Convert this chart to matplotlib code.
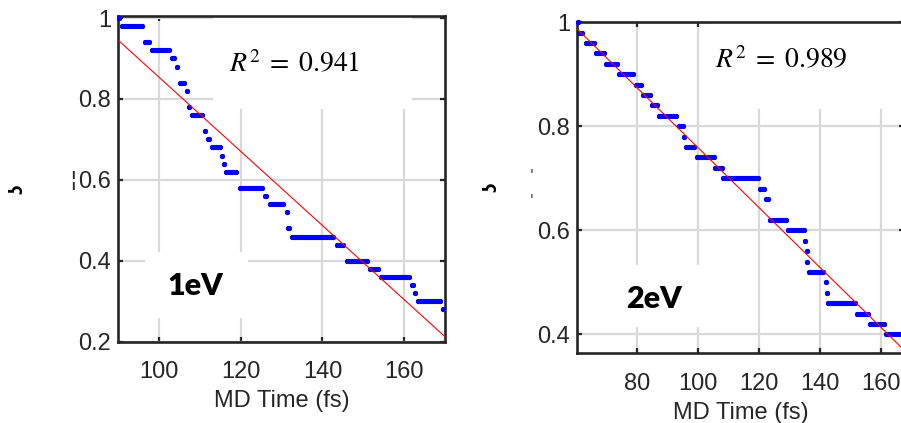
"""Two-panel step decay plot (1eV and 2eV) with linear fits, MATLAB look."""

import matplotlib

matplotlib.use("Agg")

import matplotlib.pyplot as plt
from matplotlib.patches import Rectangle

# ---- data: each step is a run of samples at one level -------------------
left_levels = [1.00, 0.98, 0.94, 0.92, 0.90, 0.88, 0.84, 0.82, 0.78, 0.76,
               0.72, 0.70, 0.68, 0.66, 0.64, 0.62, 0.58, 0.56, 0.54, 0.52,
               0.48, 0.46, 0.44, 0.40, 0.38, 0.36, 0.34, 0.32, 0.30, 0.28]
left_starts = [90.2, 90.8, 96.6, 98.3, 103.2, 104.3, 105.0, 106.8, 107.4, 108.1,
               111.3, 111.9, 113.0, 115.3, 115.8, 116.3, 119.7, 126.0, 127.1, 131.2,
               131.6, 132.6, 143.5, 146.0, 151.6, 154.4, 161.9, 162.6, 163.4, 169.4]
left_ends = [90.2, 95.7, 97.6, 102.5, 103.7, 104.3, 106.1, 106.8, 107.4, 110.4,
             111.3, 112.1, 114.9, 115.3, 115.8, 118.8, 125.3, 126.2, 130.4, 131.2,
             131.9, 142.6, 145.1, 150.8, 153.6, 161.1, 162.1, 162.6, 168.7, 169.6]
left_fit_x = [90, 170]
left_fit_y = [0.945, 0.2124]
left_r2 = "0.941"
left_label = "1eV"

right_levels = [1.00, 0.98, 0.96, 0.94, 0.92, 0.90, 0.88, 0.86, 0.84, 0.82,
                0.80, 0.78, 0.76, 0.74, 0.72, 0.70, 0.68, 0.66, 0.62, 0.60,
                0.58, 0.56, 0.54, 0.52, 0.50, 0.48, 0.46, 0.44, 0.42, 0.40]
right_starts = [60.6, 61.0, 63.2, 66.7, 70.0, 74.2, 79.7, 82.1, 84.9, 87.3,
                93.9, 95.6, 96.3, 99.9, 105.7, 108.4, 120.4, 122.3, 123.6, 129.6,
                135.3, 135.7, 135.9, 136.5, 142.0, 142.4, 142.8, 152.3, 156.4, 161.6]
right_ends = [60.6, 62.1, 65.9, 69.3, 73.5, 78.9, 81.3, 84.4, 86.8, 93.0,
              95.0, 95.6, 98.8, 105.2, 107.8, 119.6, 121.6, 122.9, 129.0, 134.9,
              135.3, 135.7, 135.9, 141.1, 142.2, 142.4, 151.6, 155.9, 160.9, 170.0]
right_fit_x = [60.5, 170]
right_fit_y = [0.987, 0.356]
right_r2 = "0.989"
right_label = "2eV"

INK = "#262626"
GRID = "#d9d9d9"
DOT = 3.7  # marker / run thickness in points

plt.rcParams["font.family"] = ["Liberation Sans", "DejaVu Sans"]
plt.rcParams["mathtext.fontset"] = "stix"

fig = plt.figure(figsize=(9.01, 4.23), dpi=100)


def panel(rect, levels, starts, ends, fit_x, fit_y, xlim, ylim, xticks, yticks,
          r2, r2_xy, label, label_xy, boxes):
    ax = fig.add_axes(rect)
    ax.set_xlim(*xlim)
    ax.set_ylim(*ylim)
    ax.set_xticks(xticks)
    ax.set_yticks(yticks)
    ax.set_yticklabels([f"{t:g}" for t in yticks])
    ax.set_axisbelow(True)
    ax.grid(True, color=GRID, lw=1.6)
    for spine in ax.spines.values():
        spine.set_color(INK)
        spine.set_linewidth(1.9)
    ax.tick_params(direction="in", length=3.5, width=1.6, color=INK,
                   labelcolor=INK, labelsize=17, top=True, right=True)
    ax.tick_params(axis="x", pad=14)
    ax.tick_params(axis="y", pad=5)
    ax.set_xlabel("MD Time (fs)", fontsize=17, color=INK, labelpad=5)

    # white text backgrounds that hide parts of the grid
    for (x0, x1, y0, y1) in boxes:
        ax.add_patch(Rectangle((x0, y0), x1 - x0, y1 - y0, facecolor="white",
                               edgecolor="none", zorder=1))

    for v, s, e in zip(levels, starts, ends):
        ax.plot([s, e], [v, v], color="#0000ff", lw=DOT, solid_capstyle="round",
                marker="o", ms=DOT, mew=0, zorder=3, clip_on=False)
    ax.plot(fit_x, fit_y, color="#ff0000", lw=0.8, zorder=4)

    ax.text(*r2_xy, rf"$R^2\;=\;{r2}$", transform=ax.transAxes, fontsize=20,
            ha="center", va="center", zorder=5)
    ax.text(*label_xy, label, transform=ax.transAxes, fontsize=22,
            family="Lato", weight="heavy", ha="center", va="center", zorder=5)
    return ax


panel([0.1313, 0.1922, 0.3626, 0.770], left_levels, left_starts, left_ends,
      left_fit_x, left_fit_y, (90, 170), (0.2, 1.005),
      [100, 120, 140, 160], [0.2, 0.4, 0.6, 0.8, 1.0],
      left_r2, (0.54, 0.85), left_label, (0.235, 0.17),
      [(113.2, 161.8, 0.775, 1.005), (96.5, 121.7, 0.259, 0.422)])

panel([0.6407, 0.1648, 0.3626, 0.7825], right_levels, right_starts, right_ends,
      right_fit_x, right_fit_y, (60.5, 167.6), (0.3635, 1.0),
      [80, 100, 120, 140, 160], [0.4, 0.6, 0.8, 1.0],
      right_r2, (0.625, 0.885), right_label, (0.235, 0.165),
      [(103.3, 170, 0.833, 1.0), (68.0, 104.0, 0.414, 0.533)])

# clipped fragments of the hidden y-labels
fig.text(17 / 901, 1 - 189 / 423, "ʖ", rotation=90, fontsize=12, color="black",
         ha="center", va="center", family="DejaVu Sans", weight="bold")
fig.text(73 / 901, 1 - 180 / 423, "¦", fontsize=16, color=INK,
         ha="center", va="center", family="DejaVu Sans")
fig.text(491 / 901, 1 - 187 / 423, "ʖ", rotation=90, fontsize=12, color="black",
         ha="center", va="center", family="DejaVu Sans", weight="bold")
fig.text(532 / 901, 1 - 175 / 423, "'", fontsize=10, color=INK,
         ha="center", va="center", family="DejaVu Sans")
fig.text(532 / 901, 1 - 200 / 423, "'", fontsize=10, color=INK,
         ha="center", va="center", family="DejaVu Sans")

fig.savefig("out.png", dpi=100)
